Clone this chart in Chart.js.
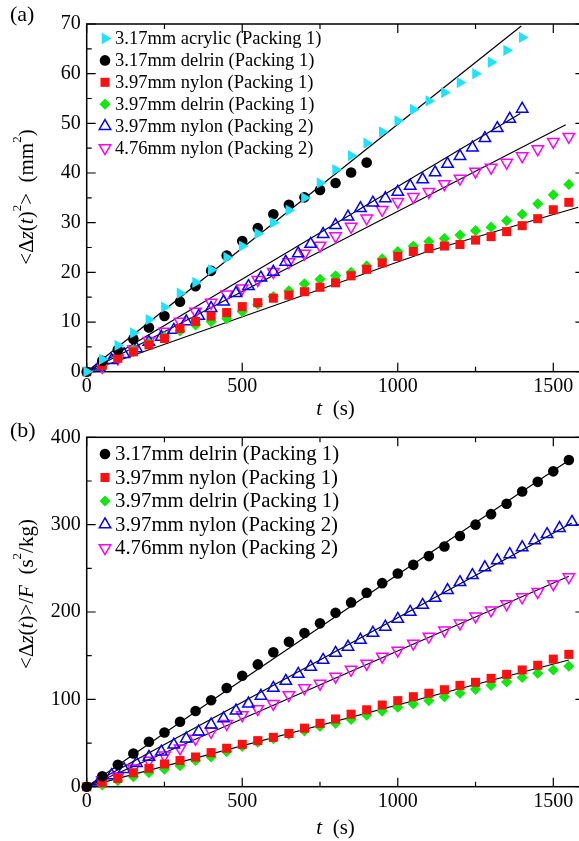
<!DOCTYPE html>
<html>
<head>
<meta charset="utf-8">
<script src="https://cdn.jsdelivr.net/npm/chart.js@4.4.1/dist/chart.umd.min.js"></script>
<style>
  html, body { margin: 0; padding: 0; background: #fff; overflow: hidden; }
  #wrap { position: relative; width: 579px; height: 841px; overflow: hidden; }
  canvas { position: absolute; left: 0; }
  #cA { top: 0; }
  #cB { top: 420px; }
</style>
</head>
<body>
<div id="wrap">
  <canvas id="cA" width="600" height="420"></canvas>
  <canvas id="cB" width="600" height="421"></canvas>
</div>
<script>
//================================ DADES

// temps (s)
const tStep50 = [0, 50, 100, 150, 200, 250, 300, 350, 400, 450, 500, 550, 600, 650, 700, 750,
  800, 850, 900, 950, 1000, 1050, 1100, 1150, 1200, 1250, 1300, 1350, 1400, 1450, 1500, 1550];
const tStep40 = [40, 80, 120, 160, 200, 240, 280, 320, 360, 400, 440, 480, 520, 560, 600, 640,
  680, 720, 760, 800, 840, 880, 920, 960, 1000, 1040, 1080, 1120, 1160, 1200, 1240, 1280, 1320,
  1360, 1400, 1440, 1480, 1520, 1560];

const labelsA = [
  '3.17mm acrylic (Packing 1)',
  '3.17mm delrin (Packing 1)',
  '3.97mm nylon (Packing 1)',
  '3.97mm delrin (Packing 1)',
  '3.97mm nylon (Packing 2)',
  '4.76mm nylon (Packing 2)',
];
const labelsB = [
  '3.17mm delrin (Packing 1)',
  '3.97mm nylon (Packing 1)',
  '3.97mm delrin (Packing 1)',
  '3.97mm nylon (Packing 2)',
  '4.76mm nylon (Packing 2)',
];

// (a) <Δz(t)^2> (mm^2)
const acrylic317A = [0, 2.5, 5.3, 7.8, 10.5, 13, 15.8, 18, 20.5, 23, 25.3, 27.8, 30, 32.5, 35, 38,
  40.7, 43.5, 46, 48.3, 50.5, 52.8, 54.5, 56.2, 58.2, 60, 62.3, 64.7, 67.3];
const delrin317A = [0, 2.2, 4.4, 6.6, 8.9, 11.2, 14.1, 17.2, 20.3, 23.4, 26.3, 28.9, 31.7, 33.6,
  35.1, 36.6, 38, 40.1, 42.1];
const nylon397A = [0, 1.3, 2.7, 4.0, 5.4, 6.7, 8.7, 10.1, 11.2, 11.9, 13.1, 13.9, 14.8, 15.4, 16.1,
  17, 17.9, 19.3, 20.6, 21.9, 23.2, 24.2, 24.8, 25.3, 25.6, 26.5, 27.2, 28.2, 29.4, 30.8, 32.6, 34.1];
const delrin397A = [0, 1.3, 2.9, 4.4, 5.8, 7.0, 8.2, 9.4, 10.1, 10.7, 12.1, 13.6, 15.1, 16.3, 17.7,
  18.6, 19.3, 20, 21.3, 22.7, 24.2, 25.3, 26.2, 26.8, 27.5, 28.4, 29.1, 30.4, 31.7, 33.8, 35.6, 37.7];
const nylon397P2A = [1.0, 2.3, 3.5, 4.7, 6.0, 7.0, 8.4, 10.1, 11.2, 12.8, 14.1, 15.8, 17.2, 18.9,
  20.1, 22.1, 23.8, 25.7, 27.7, 29.5, 31.2, 32.9, 34.0, 34.9, 36.2, 37.4, 38.7, 40.1, 41.8, 43.4,
  45.1, 47.0, 49.0, 50.9, 52.9];
const nylon476P2A = [1.0, 2.7, 4.5, 6.2, 8.1, 10.1, 12.1, 13.9, 15.6, 16.8, 18.5, 20.1, 22.1, 23.8,
  25.4, 27.3, 29.2, 30.9, 32.6, 34.2, 35.2, 36.2, 37.8, 38.9, 40.3, 41.1, 42.1, 43.4, 44.8, 46.3, 47.3];

// (a) rectes d'ajust
const fitA1T = [0, 1397];
const fitA1Y = [0, 69.6];
const fitA2T = [0, 1394];
const fitA2Y = [0, 52];
const fitA3T = [0, 1540];
const fitA3Y = [0, 49.7];
const fitA4T = [0, 1100, 1580];
const fitA4Y = [0, 24.3, 33.1];

// (b) <Δz(t)>/F (s^2/kg)
const delrin317B = [0, 12, 25, 38, 51.5, 62, 74.4, 86.6, 99, 113, 127, 140, 154, 166, 176, 187,
  199, 211, 222, 233, 244, 254, 264, 275, 287, 300, 312, 324, 338, 349, 361, 374];
const nylon397B = [0, 4.6, 9.5, 16, 21, 26, 30, 34, 39, 44, 48.5, 52.7, 56.5, 61, 67, 72.5, 77.5,
  83, 88, 93.5, 98.5, 103, 107, 111, 116, 119.5, 124, 128.6, 133.6, 139, 146, 151.5];
const delrin397B = [0, 2, 7, 11.5, 16, 20, 24, 30, 34, 40, 46, 51, 55, 60, 64, 69, 72.5, 77, 82,
  86.6, 91, 94.7, 98.5, 103, 107, 111.5, 116, 120, 125, 130, 133.6, 138];
const nylon397P2B = [5.7, 13, 20, 27, 34, 40, 48, 55, 63, 71, 78, 87, 95, 104, 113, 121, 129, 137,
  145, 153, 160, 168, 176, 183, 192, 200, 208, 216, 225, 234, 242, 251, 259, 266, 274, 282, 289,
  296, 303];
const nylon476P2B = [7.6, 12, 21, 30, 36, 44, 55, 63, 72, 82, 89, 95, 105, 113, 118, 126, 134, 141,
  149, 156, 164, 172, 179, 187, 195, 202, 209, 217, 223, 232, 240];

// (b) rectes d'ajust
const fitB1T = [0, 400, 1000, 1560];
const fitB1Y = [0, 98, 243, 376];
const fitB2T = [0, 1560];
const fitB2Y = [0, 302];
const fitB3T = [0, 1550];
const fitB3Y = [0, 241];
const fitB4T = [0, 1550];
const fitB4Y = [0, 145];

// ticks
const xMajor = [0, 500, 1000, 1500];
const xMinor = [250, 750, 1250];
const yMajorA = [0, 10, 20, 30, 40, 50, 60, 70];
const yMinorA = [5, 15, 25, 35, 45, 55, 65];
const yMajorB = [0, 100, 200, 300, 400];
const yMinorB = [50, 150, 250, 350];

//================================ ESTILS

const SERIF = '"Liberation Serif", "Times New Roman", serif';
const CYAN = '#1ee3ff';
const RED = '#ff1010';
const GREEN = '#10e810';
const BLUE = '#0000ff';
const MAGENTA = '#ff00ff';

//================================ FUNCIONS

function pairs (ts, ys, start) {
  const out = [];
  for (let i = 0; i < ys.length; i++) {
    out.push({ x: ts[start + i], y: ys[i] });
  }
  return out;
}

function markerSet (label, data, style) {
  return {
    label: label,
    data: data,
    showLine: false,
    pointStyle: style.shape,
    rotation: style.rot || 0,
    pointRadius: style.r,
    backgroundColor: style.fill,
    borderColor: style.stroke,
    pointBorderWidth: style.bw,
    borderWidth: style.bw,
    clip: false,
    order: 1,
    inLegend: true,
  };
}

function fitSet (ts, ys) {
  return {
    data: pairs(ts, ys, 0),
    showLine: true,
    pointRadius: 0,
    borderColor: '#000',
    borderWidth: 1.2,
    clip: false,
    order: 2,
    inLegend: false,
  };
}

const stCyan = { shape: 'triangle', rot: 90, r: 6.5, fill: CYAN, stroke: CYAN, bw: 0 };
const stBlack = { shape: 'circle', r: 5.3, fill: '#000', stroke: '#000', bw: 0 };
const stRed = { shape: 'rect', r: 6.4, fill: RED, stroke: RED, bw: 0 };
const stGreen = { shape: 'rectRot', r: 5.6, fill: GREEN, stroke: GREEN, bw: 0 };
const stBlue = { shape: 'triangle', r: 6.6, fill: 'rgba(0,0,0,0)', stroke: BLUE, bw: 1.5 };
const stMag = { shape: 'triangle', rot: 180, r: 6.6, fill: 'rgba(0,0,0,0)', stroke: MAGENTA, bw: 1.5 };

// Text amb cursives i superíndexs
function richText (ctx, parts, x, y, size, rotate) {
  ctx.save();
  ctx.translate(x, y);
  if (rotate) ctx.rotate(-Math.PI / 2);
  ctx.textBaseline = 'middle';
  ctx.textAlign = 'left';
  ctx.fillStyle = '#000';
  let total = 0;
  for (let i = 0; i < parts.length; i++) {
    const p = parts[i];
    const s = p.sup ? size * 0.62 : size;
    ctx.font = (p.i ? 'italic ' : '') + s + 'px ' + SERIF;
    total += ctx.measureText(p.t).width;
  }
  let cx = -total / 2;
  for (let i = 0; i < parts.length; i++) {
    const p = parts[i];
    const s = p.sup ? size * 0.62 : size;
    ctx.font = (p.i ? 'italic ' : '') + s + 'px ' + SERIF;
    ctx.fillText(p.t, cx, p.sup ? -size * 0.45 : 0);
    cx += ctx.measureText(p.t).width;
  }
  ctx.restore();
}

const panelPlugin = {
  id: 'panel',
  beforeDatasetsDraw (chart) {
    const cfg = chart.options.plugins.panel;
    const ctx = chart.ctx;
    const a = chart.chartArea;
    const xs = chart.scales.x;
    const ys = chart.scales.y;
    ctx.save();
    ctx.strokeStyle = '#000';
    ctx.lineWidth = 1.5;
    ctx.strokeRect(a.left, a.top, a.right - a.left, a.bottom - a.top);
    ctx.lineWidth = 1.2;
    ctx.beginPath();
    const xt = [[xMajor, 9], [xMinor, 5]];
    for (let k = 0; k < xt.length; k++) {
      for (let i = 0; i < xt[k][0].length; i++) {
        const px = xs.getPixelForValue(xt[k][0][i]);
        ctx.moveTo(px, a.bottom); ctx.lineTo(px, a.bottom - xt[k][1]);
        ctx.moveTo(px, a.top); ctx.lineTo(px, a.top + xt[k][1]);
      }
    }
    const yt = [[cfg.yMajor, 9], [cfg.yMinor, 5]];
    for (let k = 0; k < yt.length; k++) {
      for (let i = 0; i < yt[k][0].length; i++) {
        const py = ys.getPixelForValue(yt[k][0][i]);
        ctx.moveTo(a.left, py); ctx.lineTo(a.left + yt[k][1], py);
        ctx.moveTo(a.right, py); ctx.lineTo(a.right - yt[k][1], py);
      }
    }
    ctx.stroke();

    // etiquetes de ticks
    ctx.fillStyle = '#000';
    ctx.font = '20px ' + SERIF;
    ctx.textAlign = 'center';
    ctx.textBaseline = 'middle';
    for (let i = 0; i < xMajor.length; i++) {
      ctx.fillText(String(xMajor[i]), xs.getPixelForValue(xMajor[i]), a.bottom + 15);
    }
    ctx.textAlign = 'right';
    for (let i = 0; i < cfg.yMajor.length; i++) {
      ctx.fillText(String(cfg.yMajor[i]), a.left - 6, ys.getPixelForValue(cfg.yMajor[i]));
    }
    ctx.restore();

    // títols
    richText(ctx, [{ t: 't', i: 1 }, { t: '  (s)' }], (a.left + a.right) / 2, a.bottom + cfg.xTitleDy, 21, false);
    richText(ctx, cfg.yTitle, 27, cfg.yTitleY, 21, true);
    ctx.save();
    ctx.font = '22px ' + SERIF;
    ctx.textAlign = 'left';
    ctx.textBaseline = 'middle';
    ctx.fillStyle = '#000';
    ctx.fillText(cfg.tag, 10, cfg.tagY);
    ctx.restore();
  },
  afterDatasetsDraw (chart) {
    const cfg = chart.options.plugins.panel;
    const ctx = chart.ctx;
    const sets = chart.data.datasets;
    let row = 0;
    ctx.save();
    for (let i = 0; i < sets.length; i++) {
      const ds = sets[i];
      if (!ds.inLegend) continue;
      const y = cfg.legY + row * cfg.legStep;
      ctx.fillStyle = ds.backgroundColor;
      ctx.strokeStyle = ds.borderColor;
      ctx.lineWidth = ds.borderWidth;
      Chart.helpers.drawPoint(ctx, {
        pointStyle: ds.pointStyle,
        rotation: ds.rotation,
        radius: ds.pointRadius,
        borderWidth: ds.borderWidth,
      }, 105, y);
      ctx.fillStyle = '#000';
      ctx.font = cfg.legFont + 'px ' + SERIF;
      ctx.textAlign = 'left';
      ctx.textBaseline = 'middle';
      ctx.fillText(ds.label, 115, y + 1);
      row++;
    }
    ctx.restore();
  },
};

function makeOptions (yMax, pad, panel) {
  return {
    responsive: false,
    devicePixelRatio: 1,
    animation: false,
    events: [],
    layout: { padding: pad },
    plugins: {
      legend: { display: false },
      tooltip: { enabled: false },
      panel: panel,
    },
    scales: {
      x: { type: 'linear', min: 0, max: 1600, display: false },
      y: { type: 'linear', min: 0, max: yMax, display: false },
    },
  };
}

//================================ GRÀFIC (a)

new Chart(document.getElementById('cA'), {
  type: 'scatter',
  data: {
    datasets: [
      markerSet(labelsA[0], pairs(tStep50, acrylic317A, 0), stCyan),
      markerSet(labelsA[1], pairs(tStep50, delrin317A, 0), stBlack),
      markerSet(labelsA[2], pairs(tStep50, nylon397A, 0), stRed),
      markerSet(labelsA[3], pairs(tStep50, delrin397A, 0), stGreen),
      markerSet(labelsA[4], pairs(tStep40, nylon397P2A, 0), stBlue),
      markerSet(labelsA[5], pairs(tStep50, nylon476P2A, 1), stMag),
      fitSet(fitA1T, fitA1Y),
      fitSet(fitA2T, fitA2Y),
      fitSet(fitA3T, fitA3Y),
      fitSet(fitA4T, fitA4Y),
    ],
  },
  options: makeOptions(70, { left: 86.7, top: 24, right: 15.6, bottom: 48.3 }, {
    yMajor: yMajorA,
    yMinor: yMinorA,
    yTitle: [{ t: '<Δ' }, { t: 'z', i: 1 }, { t: '(' }, { t: 't', i: 1 }, { t: ')' }, { t: '2', sup: 1 },
      { t: '>  (mm' }, { t: '2', sup: 1 }, { t: ')' }],
    yTitleY: 197,
    xTitleDy: 38,
    tag: '(a)',
    tagY: 15,
    legY: 38.5,
    legStep: 21.9,
    legFont: 18.5,
  }),
  plugins: [panelPlugin],
});

//================================ GRÀFIC (b)

new Chart(document.getElementById('cB'), {
  type: 'scatter',
  data: {
    datasets: [
      markerSet(labelsB[0], pairs(tStep50, delrin317B, 0), stBlack),
      markerSet(labelsB[1], pairs(tStep50, nylon397B, 0), stRed),
      markerSet(labelsB[2], pairs(tStep50, delrin397B, 0), stGreen),
      markerSet(labelsB[3], pairs(tStep40, nylon397P2B, 0), stBlue),
      markerSet(labelsB[4], pairs(tStep50, nylon476P2B, 1), stMag),
      fitSet(fitB1T, fitB1Y),
      fitSet(fitB2T, fitB2Y),
      fitSet(fitB3T, fitB3Y),
      fitSet(fitB4T, fitB4Y),
    ],
  },
  options: makeOptions(400, { left: 86.7, top: 17.3, right: 15.6, bottom: 54.3 }, {
    yMajor: yMajorB,
    yMinor: yMinorB,
    yTitle: [{ t: '<Δ' }, { t: 'z', i: 1 }, { t: '(' }, { t: 't', i: 1 }, { t: ')>/' }, { t: 'F', i: 1 },
      { t: '  (s' }, { t: '2', sup: 1 }, { t: '/kg)' }],
    yTitleY: 174,
    xTitleDy: 42,
    tag: '(b)',
    tagY: 11,
    legY: 34,
    legStep: 23.5,
    legFont: 20.8,
  }),
  plugins: [panelPlugin],
});
</script>
</body>
</html>
